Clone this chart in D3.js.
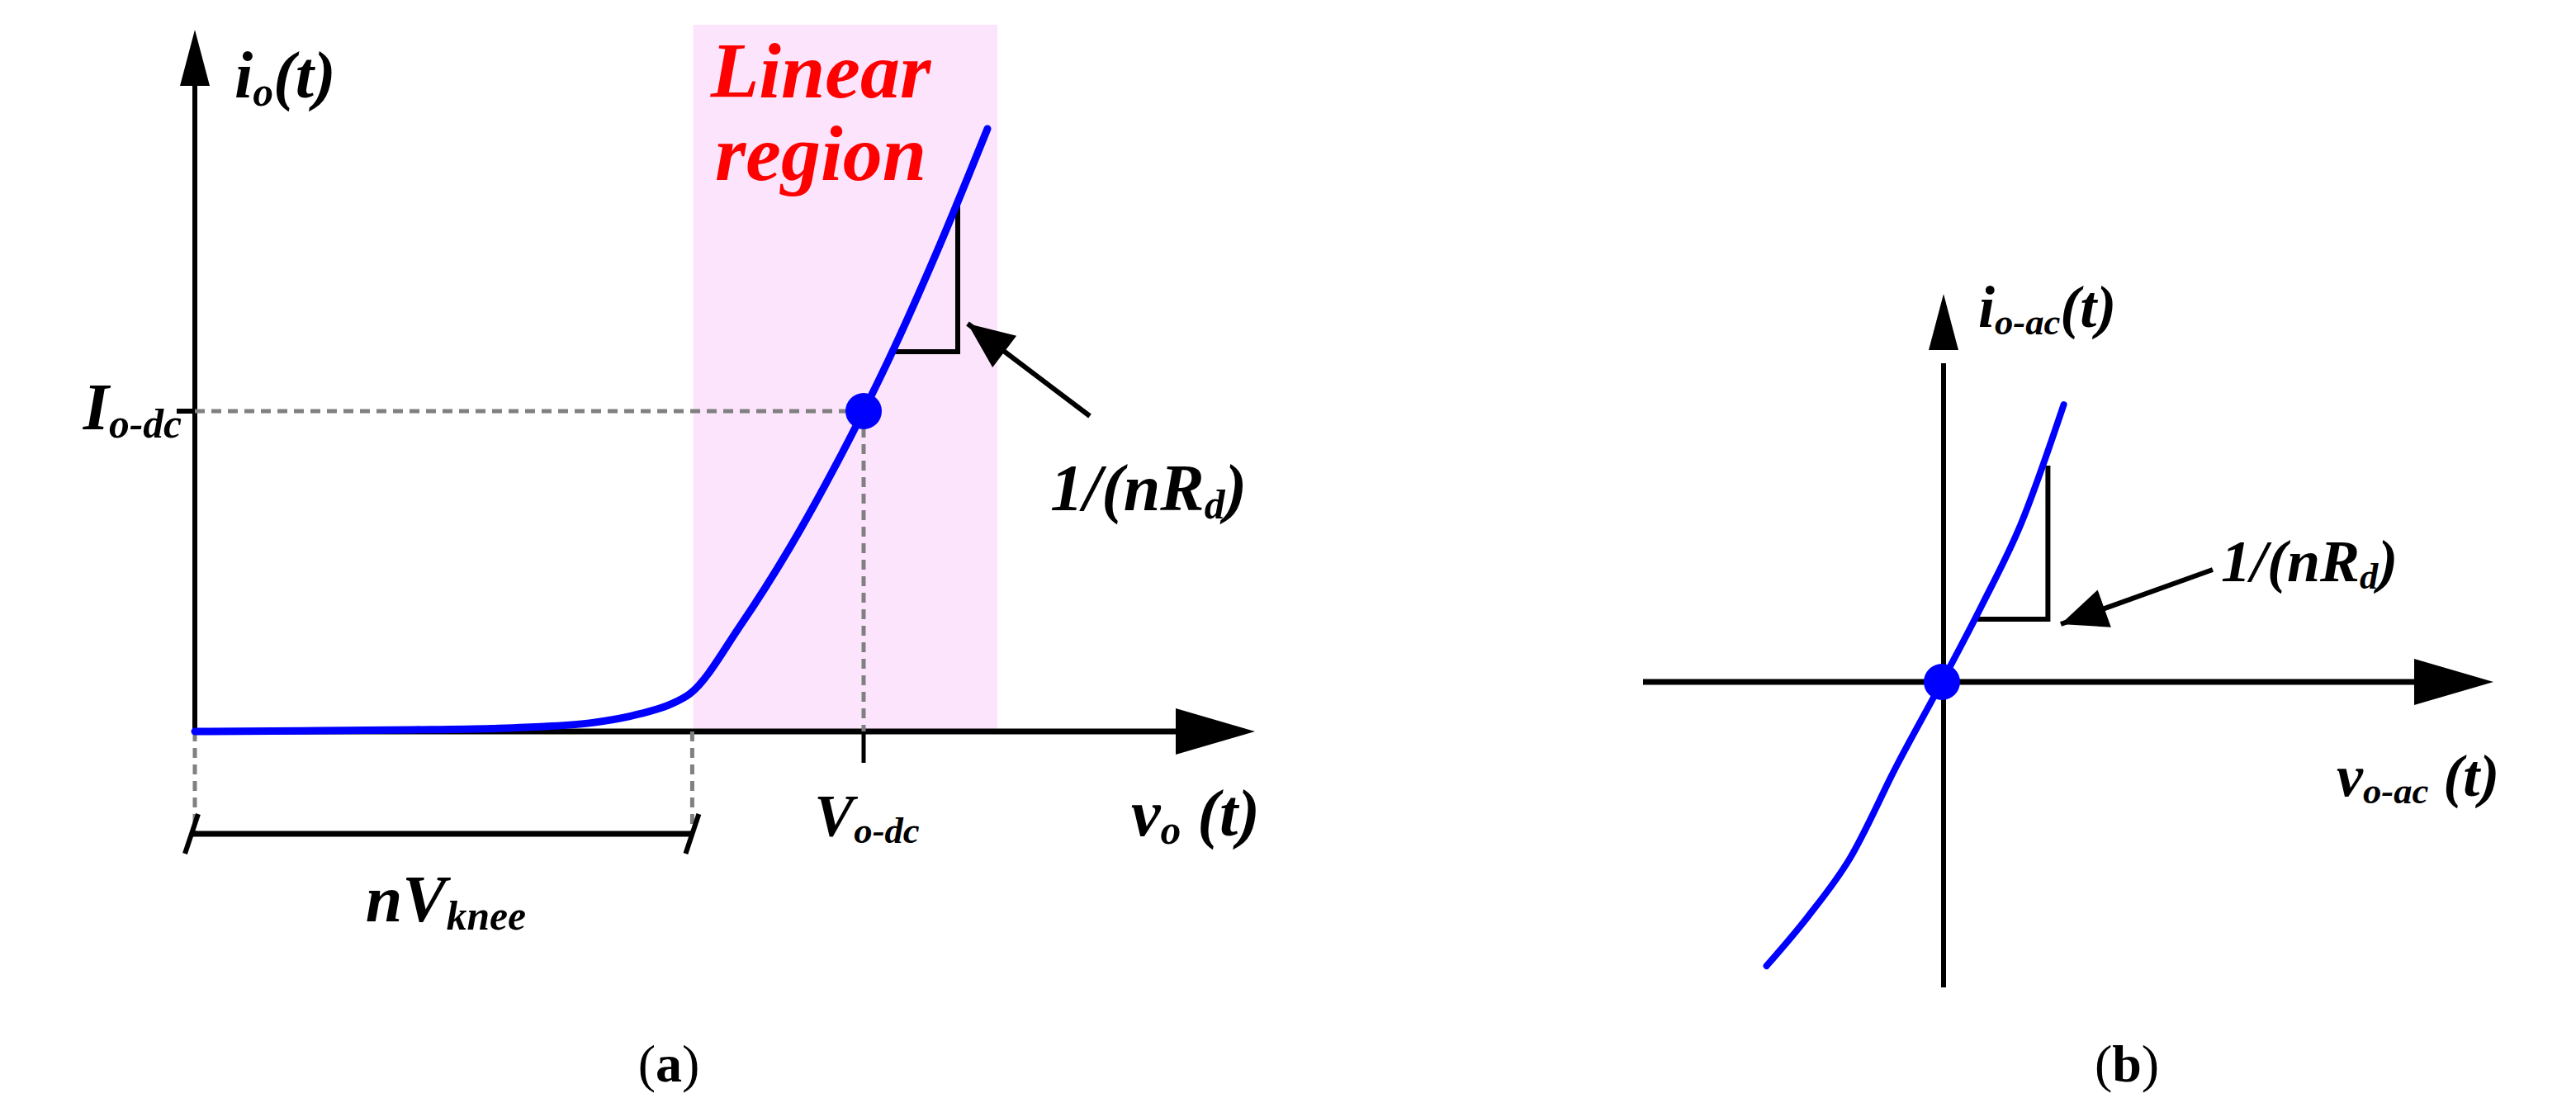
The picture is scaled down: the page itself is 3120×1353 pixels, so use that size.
<!DOCTYPE html>
<html><head><meta charset="utf-8">
<script src="https://cdn.jsdelivr.net/npm/d3@7"></script>
<style>body{margin:0;background:#fff}text{font-family:"Liberation Serif","DejaVu Serif",serif;font-weight:bold;font-style:italic}</style>
</head><body><svg id="c" width="3120" height="1353"></svg>
<script>
// panel (a) diode I-V curve, arbitrary units
var curveA = [[0,0],[11,0.1],[22,0.25],[30,0.45],[35.3,0.75],[40,1.3],[45,2.7],[48,4.1],[50,5.75],[55,15.9],[60,27.7],[65,41.2],[67.5,48.5],[70,56.2],[75,73],[80,91.25]];
var linearRegion = [50.3, 81, 107];
var opPoint = [67.5, 48.5];
var kneeX = 50.2;
var triA = [[70.3,57.5],[77,57.5],[77,80.75]];
// panel (b) small-signal
var curveB = [[-17.7,-43],[-13.5,-35.5],[-9.3,-26.75],[-4.5,-12.5],[0,0],[4,11.5],[8,24],[12.3,42]];
var triB = [[3.2,9.5],[10.7,9.5],[10.7,32.75]];

var svg = d3.select("#c");
var xA = d3.scaleLinear([0,100],[236,1436]), yA = d3.scaleLinear([0,100],[886,86]);
var xB = d3.scaleLinear([0,10],[2352,2472]), yB = d3.scaleLinear([0,10],[826,746]);
var blue = "#0000ff";

function arrowHead(g, x, y, dir){
  var p = dir=="up" ? [[x,y],[x-18,y+68],[x+18,y+68]] : [[x,y],[x-96,y-28],[x-96,y+28]];
  g.append("path").attr("d","M"+p.join("L")+"Z").attr("fill","#000");
}
function pointer(g,x1,y1,x2,y2){
  g.append("line").attr("x1",x1).attr("y1",y1).attr("x2",x2).attr("y2",y2).attr("stroke","#000").attr("stroke-width",6);
  var a=Math.atan2(y2-y1,x2-x1), L=56, W=24;
  var p=[[x2,y2],[x2-L*Math.cos(a)+W*Math.sin(a),y2-L*Math.sin(a)-W*Math.cos(a)],[x2-L*Math.cos(a)-W*Math.sin(a),y2-L*Math.sin(a)+W*Math.cos(a)]];
  g.append("path").attr("d","M"+p.join("L")+"Z").attr("fill","#000");
}
function label(g,x,y,size,parts,anchor,color){
  var t=g.append("text").attr("x",x).attr("y",y).attr("font-size",size).attr("text-anchor",anchor||"start").attr("fill",color||"#000");
  parts.forEach(function(p){
    var s=t.append("tspan").text(p[0]);
    if(p[1]) s.attr("font-size",size*0.62).attr("dy",size*0.12);
    else s.attr("dy", p[2]||0);
  });
  return t;
}

// ---- panel a
var a = svg.append("g");
a.append("rect").attr("x",xA(linearRegion[0])).attr("y",yA(linearRegion[2]))
  .attr("width",xA(linearRegion[1])-xA(linearRegion[0])).attr("height",yA(0)-yA(linearRegion[2])).attr("fill","#fce4fc");
a.append("line").attr("x1",xA(0)).attr("y1",yA(0)).attr("x2",xA(0)).attr("y2",yA(100)).attr("stroke","#000").attr("stroke-width",6);
arrowHead(a,xA(0),36,"up");
a.append("line").attr("x1",xA(0)).attr("y1",yA(0)).attr("x2",xA(99)).attr("y2",yA(0)).attr("stroke","#000").attr("stroke-width",7);
arrowHead(a,1520,yA(0),"right");
var dash = {"stroke":"#808080","stroke-width":5,"stroke-dasharray":"12,8"};
function dl(x1,y1,x2,y2){var l=a.append("line").attr("x1",x1).attr("y1",y1).attr("x2",x2).attr("y2",y2);for(var k in dash)l.attr(k,dash[k]);}
dl(xA(0),yA(opPoint[1]),xA(opPoint[0]),yA(opPoint[1]));
dl(xA(opPoint[0]),yA(opPoint[1]),xA(opPoint[0]),yA(0));
dl(xA(0),yA(0),xA(0),1010);
dl(xA(kneeX),yA(0),xA(kneeX),1010);
a.append("line").attr("x1",xA(opPoint[0])).attr("y1",yA(0)).attr("x2",xA(opPoint[0])).attr("y2",924).attr("stroke","#000").attr("stroke-width",5);
a.append("line").attr("x1",xA(0)).attr("y1",yA(opPoint[1])).attr("x2",xA(0)-22).attr("y2",yA(opPoint[1])).attr("stroke","#000").attr("stroke-width",6);
a.append("line").attr("x1",xA(0)-4).attr("y1",1010).attr("x2",xA(kneeX)).attr("y2",1010).attr("stroke","#000").attr("stroke-width",7);
[xA(0)-4,xA(kneeX)].forEach(function(x){a.append("line").attr("x1",x-8).attr("y1",1034).attr("x2",x+8).attr("y2",986).attr("stroke","#000").attr("stroke-width",6);});
a.append("path").datum(triA).attr("d",d3.line().x(function(d){return xA(d[0]);}).y(function(d){return yA(d[1]);})).attr("fill","none").attr("stroke","#000").attr("stroke-width",6);
a.append("path").datum(curveA).attr("d",d3.line().curve(d3.curveMonotoneX).x(function(d){return xA(d[0]);}).y(function(d){return yA(d[1]);}))
  .attr("fill","none").attr("stroke",blue).attr("stroke-width",9).attr("stroke-linecap","round");
a.append("circle").attr("cx",xA(opPoint[0])).attr("cy",yA(opPoint[1])).attr("r",22).attr("fill",blue);
pointer(a,1320,504,1172,392);
label(a,284,118,80,[["i"],["o",1],["(t)",0,-9.6]]);
label(a,994,118,96,[["Linear"]],"middle","#ff0000");
label(a,994,218,96,[["region"]],"middle","#ff0000");
label(a,220,520,80,[["I"],["o-dc",1]],"end");
label(a,1050,1012,72,[["V"],["o-dc",1]],"middle");
label(a,1370,1012,80,[["v"],["o",1],[" (t)",0,-9.6]]);
label(a,540,1116,80,[["nV"],["knee",1]],"middle");
label(a,1272,618,80,[["1/(nR"],["d",1],[")",0,-9.6]]);
label(a,810,1310,64,[["("],["a"],[")"]],"middle").style("font-style","normal").selectAll("tspan").filter(function(d,i){return i!=1;}).style("font-weight","normal");

// ---- panel b
var b = svg.append("g");
b.append("line").attr("x1",xB(0)+2).attr("y1",1196).attr("x2",xB(0)+2).attr("y2",440).attr("stroke","#000").attr("stroke-width",6);
arrowHead(b,xB(0)+2,356,"up");
b.append("line").attr("x1",1990).attr("y1",yB(0)).attr("x2",2940).attr("y2",yB(0)).attr("stroke","#000").attr("stroke-width",7);
arrowHead(b,3020,yB(0),"right");
b.append("path").datum(triB).attr("d",d3.line().x(function(d){return xB(d[0]);}).y(function(d){return yB(d[1]);})).attr("fill","none").attr("stroke","#000").attr("stroke-width",6);
b.append("path").datum(curveB).attr("d",d3.line().curve(d3.curveMonotoneX).x(function(d){return xB(d[0]);}).y(function(d){return yB(d[1]);}))
  .attr("fill","none").attr("stroke",blue).attr("stroke-width",8).attr("stroke-linecap","round");
b.append("circle").attr("cx",xB(0)).attr("cy",yB(0)).attr("r",22).attr("fill",blue);
pointer(b,2680,690,2496,756);
label(b,2396,396,72,[["i"],["o-ac",1],["(t)",0,-8.6]]);
label(b,2690,704,72,[["1/(nR"],["d",1],[")",0,-8.6]]);
label(b,2830,964,72,[["v"],["o-ac",1],[" (t)",0,-8.6]]);
label(b,2576,1310,64,[["("],["b"],[")"]],"middle").style("font-style","normal").selectAll("tspan").filter(function(d,i){return i!=1;}).style("font-weight","normal");
</script></body></html>
